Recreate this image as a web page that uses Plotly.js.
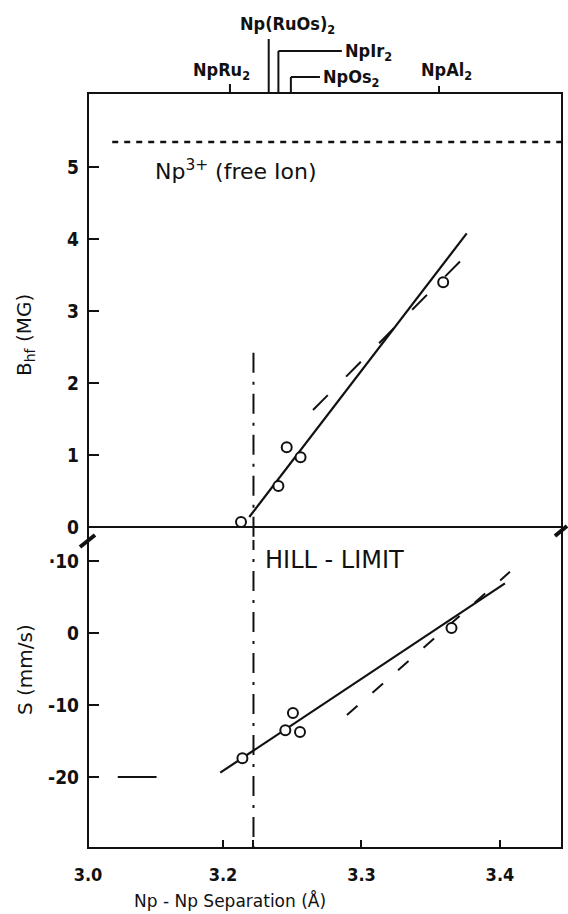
<!DOCTYPE html>
<html>
<head>
<meta charset="utf-8">
<script src="https://cdn.plot.ly/plotly-3.0.1.min.js"></script>
<style>
html,body{margin:0;padding:0;background:#fff;}
#chart{width:568px;height:914px;}
</style>
</head>
<body>
<div id="chart"></div>
<script>
// ---------------- data ----------------
const compounds   = ["NpRu<sub>2</sub>", "Np(RuOs)<sub>2</sub>", "NpIr<sub>2</sub>", "NpOs<sub>2</sub>", "NpAl<sub>2</sub>"];
const compoundSep = [3.205, 3.233, 3.240, 3.249, 3.356];

// hyperfine field B_hf (MG) vs Np-Np separation (Å)
const sepBhf = [3.213, 3.240, 3.246, 3.256, 3.359];
const bhf    = [0.07, 0.57, 1.11, 0.97, 3.40];

// isomer shift S (mm/s) vs Np-Np separation (Å)
const sepS  = [3.214, 3.245, 3.2505, 3.2556, 3.365];
const shift = [-17.4, -13.5, -11.1, -13.75, 0.7];

// guide lines of the figure
const bhfSolidX = [3.219, 3.376],  bhfSolidY = [0.14, 4.08];
const bhfDashX  = [3.265, 3.384],  bhfDashY  = [1.625, 3.94];
const sSolidX   = [3.198, 3.4036], sSolidY   = [-19.4, 6.9];
const sDashX    = [3.2895, 3.4072], sDashY   = [-11.4, 8.5];
const freeIonX  = [3.12, 3.445],   freeIonB  = [5.35, 5.35];
const sRefX     = [3.124, 3.152],  sRefY     = [-20, -20];
const hillLimit = 3.222;
const hillTopB  = 2.42;

// axis ticks (x axis is broken between 3.0 and 3.2)
const xTickVals = [3.1025, 3.2, hillLimit, 3.3, 3.4];
const xTickText = ["3.0", "3.2", " ", "3.3", "3.4"];
const bTickVals = [0, 1, 2, 3, 4, 5];
const sTickVals = [10, 0, -10, -20];
const sTickText = ["·10", "0", "-10", "-20"];

// ---------------- layout helpers ----------------
const W = 568, Hfig = 914, mL = 88, mR = 6, mT = 93, mB = 66;
const plotH = Hfig - mT - mB;
const py = px => (mT + plotH - px) / plotH;          // page pixel -> paper y
const pxX = px => (px - mL) / (W - mL - mR);         // page pixel -> paper x
const splitY = py(540);
const FONT = "DejaVu Sans";
const ink = "#111";

// leader lines for compound labels (top)
const leaderTopPx = [84, 39, 51, 77, 86];
const leaderHx    = [null, null, 3.2866, 3.2708, null];
const labelCfg = [
  {x: 3.1989, ypx: 71, anchor: "center"},
  {x: 3.2466, ypx: 25, anchor: "center"},
  {x: 3.2866, ypx: 52, anchor: "left"},
  {x: 3.2708, ypx: 78, anchor: "left"},
  {x: 3.3617, ypx: 71, anchor: "center"}
];

const shapes = [];
compoundSep.forEach((xv, i) => {
  const yt = py(leaderTopPx[i]);
  shapes.push({type: "line", xref: "x", yref: "paper", x0: xv, x1: xv, y0: 1, y1: yt,
               line: {color: ink, width: 2}});
  if (leaderHx[i] !== null) {
    shapes.push({type: "line", xref: "x", yref: "paper", x0: xv, x1: leaderHx[i] - 0.0008, y0: yt, y1: yt,
                 line: {color: ink, width: 2}});
  }
});
// frame
shapes.push({type: "rect", xref: "paper", yref: "paper", x0: 0, x1: 1, y0: 0, y1: 1,
             line: {color: ink, width: 2}, fillcolor: "rgba(0,0,0,0)"});
// axis-break marks
shapes.push({type: "line", xref: "paper", yref: "paper", x0: pxX(80), x1: pxX(95), y0: py(547), y1: py(535),
             line: {color: ink, width: 4}});
shapes.push({type: "line", xref: "paper", yref: "paper", x0: pxX(555), x1: pxX(567), y0: py(536), y1: py(526),
             line: {color: ink, width: 4}});

const annotations = compounds.map((t, i) => ({
  text: t, xref: "x", yref: "paper", x: labelCfg[i].x, y: py(labelCfg[i].ypx),
  xanchor: labelCfg[i].anchor, yanchor: "middle", showarrow: false,
  font: {family: "DejaVu Sans Condensed", size: 18, weight: "bold", color: ink}
}));
annotations.push(
  {text: "Np<sup>3+</sup> (free Ion)", xref: "x", yref: "y", x: 3.1495, y: 4.96,
   xanchor: "left", yanchor: "middle", showarrow: false, font: {family: FONT, size: 22, color: ink}},
  {text: "HILL - LIMIT", xref: "x", yref: "y2", x: 3.2289, y: 10.1,
   xanchor: "left", yanchor: "middle", showarrow: false, font: {family: FONT, size: 24, color: ink}},
  {text: "B<sub>hf</sub> (MG)", xref: "paper", yref: "paper", x: pxX(25), y: py(335), textangle: -90,
   xanchor: "center", yanchor: "middle", showarrow: false, font: {family: FONT, size: 20, color: ink}},
  {text: "S (mm/s)", xref: "paper", yref: "paper", x: pxX(25), y: py(670), textangle: -90,
   xanchor: "center", yanchor: "middle", showarrow: false, font: {family: FONT, size: 20, color: ink}},
  {text: "Np - Np Separation (Å)", xref: "paper", yref: "paper", x: pxX(230), y: py(900),
   xanchor: "center", yanchor: "middle", showarrow: false, font: {family: FONT, size: 17, color: ink}}
);

const lineTr = (x, y, ya, dash, width) => ({
  type: "scatter", mode: "lines", x: x, y: y, xaxis: "x", yaxis: ya,
  line: {color: ink, width: width, dash: dash}, hoverinfo: "skip", showlegend: false
});
const markTr = (x, y, ya) => ({
  type: "scatter", mode: "markers", x: x, y: y, xaxis: "x", yaxis: ya,
  marker: {symbol: "circle", size: 10, color: "#fff", line: {color: ink, width: 2}},
  showlegend: false
});

const data = [
  lineTr(freeIonX, freeIonB, "y", "6px,6px", 2.5),
  lineTr([hillLimit, hillLimit], [hillTopB, -1], "y", "20px,9px,3px,9px", 2),
  lineTr(bhfDashX, bhfDashY, "y", "21px,26px", 2),
  lineTr(bhfSolidX, bhfSolidY, "y", "solid", 2.2),
  markTr(sepBhf, bhf, "y"),
  lineTr([hillLimit, hillLimit], [20, -40], "y2", "20px,9px,3px,9px", 2),
  lineTr(sRefX, sRefY, "y2", "solid", 2),
  lineTr(sDashX, sDashY, "y2", "14px,20px", 2),
  lineTr(sSolidX, sSolidY, "y2", "solid", 2.2),
  markTr(sepS, shift, "y2")
];

const tickFont = {family: "DejaVu Sans Condensed", size: 19, weight: "bold", color: ink};

const layout = {
  width: W, height: Hfig,
  margin: {l: mL, r: mR, t: mT, b: mB, pad: 0},
  paper_bgcolor: "#fff", plot_bgcolor: "#fff",
  showlegend: false,
  font: {family: FONT, color: ink},
  xaxis: {
    anchor: "y2", domain: [0, 1], range: [3.1025, 3.4448],
    tickmode: "array", tickvals: xTickVals, ticktext: xTickText,
    ticks: "inside", ticklen: 8, tickwidth: 2, tickcolor: ink,
    ticklabelstandoff: 14,
    tickfont: {family: "DejaVu Sans Condensed", size: 18, weight: "bold", color: ink},
    showgrid: false, zeroline: false, showline: false
  },
  yaxis: {
    anchor: "x", domain: [splitY, 1], range: [-0.18, 6.03],
    tickmode: "array", tickvals: bTickVals,
    ticks: "inside", ticklen: 11, tickwidth: 2, tickcolor: ink,
    ticklabelstandoff: 8,
    tickfont: tickFont,
    showgrid: false, zeroline: true, zerolinecolor: ink, zerolinewidth: 2, showline: false
  },
  yaxis2: {
    anchor: "x", domain: [0, splitY], range: [-29.86, 12.92],
    tickmode: "array", tickvals: sTickVals, ticktext: sTickText,
    ticks: "inside", ticklen: 11, tickwidth: 2, tickcolor: ink,
    ticklabelstandoff: 8,
    tickfont: tickFont,
    showgrid: false, zeroline: false, showline: false
  },
  shapes: shapes,
  annotations: annotations
};

Plotly.newPlot("chart", data, layout, {staticPlot: true, displayModeBar: false});
</script>
</body>
</html>
